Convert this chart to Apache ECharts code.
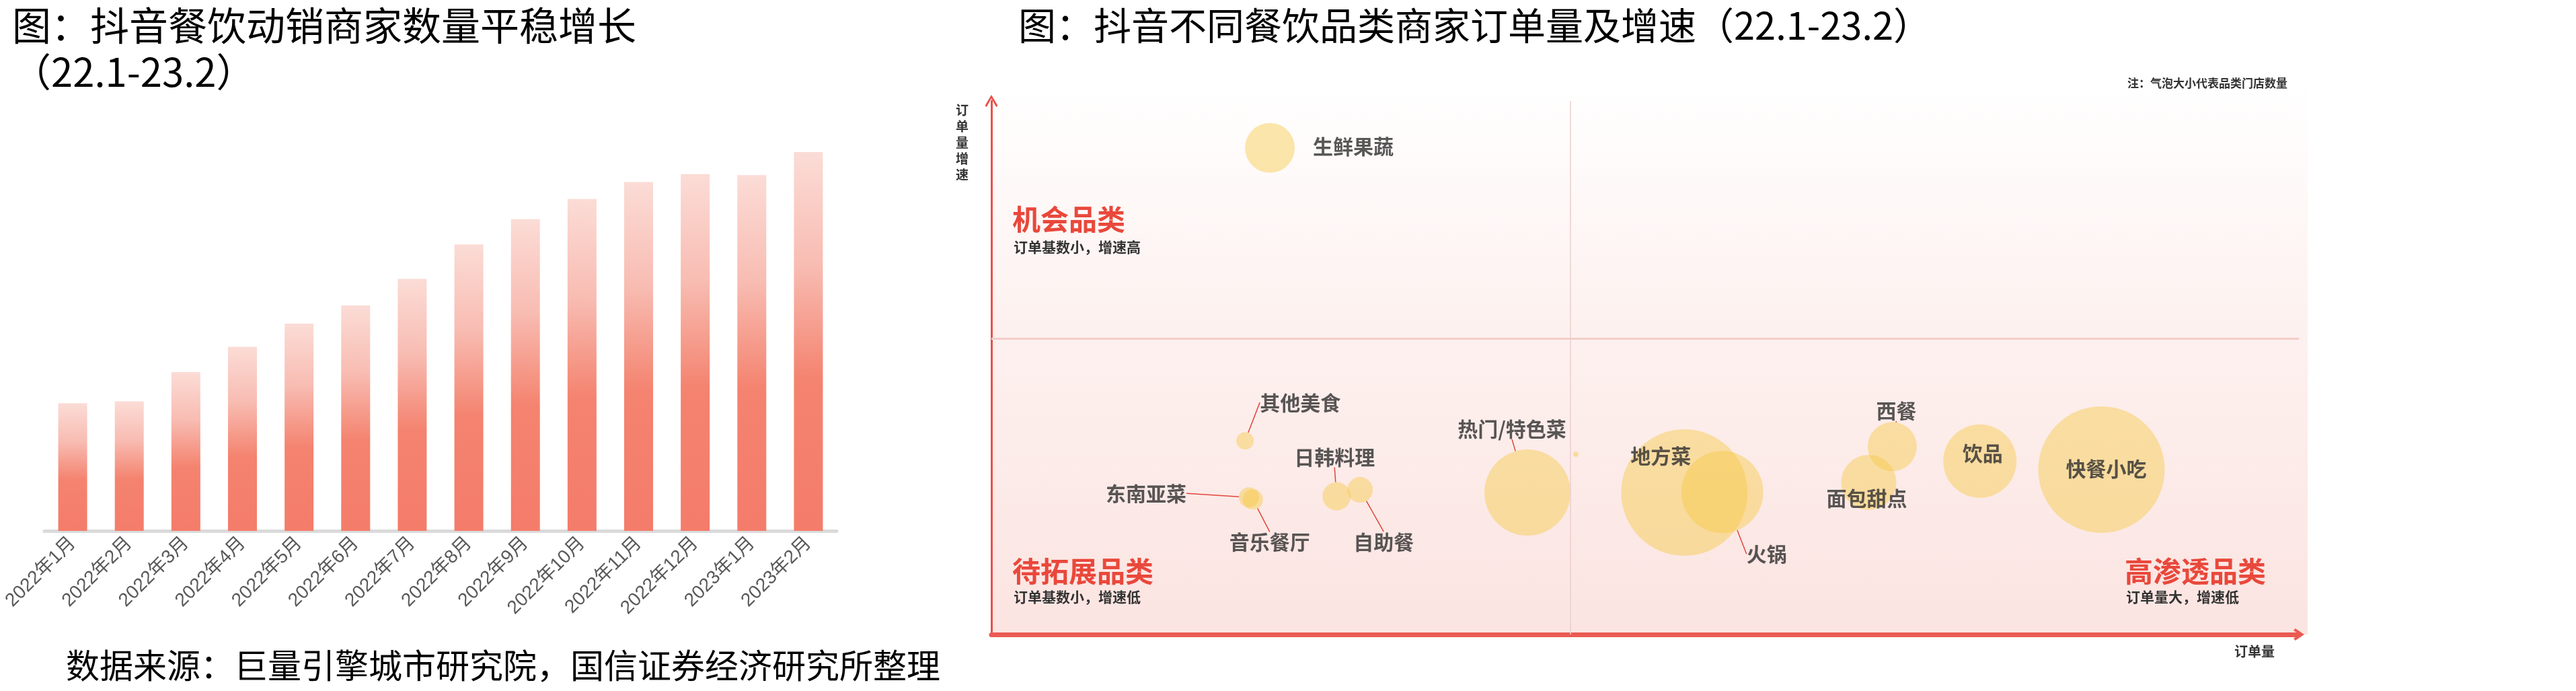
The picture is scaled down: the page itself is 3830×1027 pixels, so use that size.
<!DOCTYPE html>
<html><head><meta charset="utf-8">
<script src="https://cdn.jsdelivr.net/npm/echarts@6/dist/echarts.min.js"></script>
<style>html,body{margin:0;padding:0;background:#fff}#c{width:3830px;height:1027px}</style>
</head><body><div id="c"></div>
<script>
// ---- Left chart data: active restaurant merchants (index, 2023-02 = 100) ----
const months = ['2022年1月','2022年2月','2022年3月','2022年4月','2022年5月','2022年6月','2022年7月','2022年8月','2022年9月','2022年10月','2022年11月','2022年12月','2023年1月','2023年2月'];
const merchantIndex = [33.7, 34.2, 41.9, 48.6, 54.7, 59.5, 66.5, 75.6, 82.3, 87.6, 92.1, 94.2, 93.9, 100];

// ---- Right chart data: order volume vs order growth by category ----
const categories   = ['生鲜果蔬','其他美食','日韩料理','自助餐','东南亚菜','音乐餐厅','热门/特色菜','','地方菜','火锅','西餐','面包甜点','饮品','快餐小吃'];
const orderVolume  = [21.3, 19.4, 26.4, 28.2, 19.7, 20.0, 41.0, 44.7, 53.0, 55.9, 68.9, 67.1, 75.6, 84.9];
const orderGrowth  = [91.2, 36.3, 25.9, 27.1, 25.7, 25.3, 26.6, 33.8, 26.6, 26.7, 35.2, 28.5, 32.5, 30.9];
const bubbleValue  = [74, 26, 42, 38, 30, 30, 128, 8, 188, 122, 73, 82, 109, 188];
const splitVolume  = [44.3];
const splitGrowth  = [55.5];

const CJK = "'Noto Sans CJK SC','Noto Sans CJK JP',sans-serif";
const chart = echarts.init(document.getElementById('c'));

// label placement (pixel offsets from bubble centre) and leader-line flags
const labelStyle = {
  '生鲜果蔬': [124, -2, false],
  '其他美食': [82, -57, true],
  '日韩料理': [-3, -58, true],
  '自助餐': [35, 77, true],
  '东南亚菜': [-153, -6, true],
  '音乐餐厅': [25, 63, true],
  '热门/特色菜': [-23, -94, true],
  '': [0, 0, false],
  '地方菜': [-35, -54, false],
  '火锅': [66, 92, true],
  '西餐': [6, -53, true],
  '面包甜点': [-3, 24, false],
  '饮品': [4, -12, false],
  '快餐小吃': [7, -1, false]
};

const chevY = 'path://M0,17 L10,0 L20,17 L17.6,19 L10,5.5 L2.4,19 Z';
const chevX = 'path://M0,15 L10,0 L20,15 L16.5,18 L10,7 L3.5,18 Z';

const scatterData = categories.map((n, i) => ({
  name: n,
  value: [orderVolume[i], orderGrowth[i], bubbleValue[i]],
  labelLine: { show: labelStyle[n][2] }
}));

function t(text, left, top, size, color, weight, extra) {
  return {
    text: text, left: left, top: top, padding: 0,
    textStyle: Object.assign({ fontSize: size, color: color, fontWeight: weight || 'normal', fontFamily: CJK }, extra || {})
  };
}

const option = {
  animation: false,
  backgroundColor: '#ffffff',
  title: [
    t('图：抖音餐饮动销商家数量平稳增长', 18, 9, 58, '#000'),
    t('（22.1-23.2）', 18, 78, 58, '#000'),
    t('图：抖音不同餐饮品类商家订单量及增速（22.1-23.2）', 1514, 10, 56, '#000'),
    t('数据来源：巨量引擎城市研究院，国信证券经济研究所整理', 98, 964, 50, '#000'),
    t('注：气泡大小代表品类门店数量', 3163, 115, 17, '#333', 'bold'),
    t('订\n单\n量\n增\n速', 1421, 152, 19, '#333', 'bold', { lineHeight: 24 }),
    t('订单量', 3322, 958, 20, '#333', 'bold'),
    t('机会品类', 1505, 305, 42, '#e9483b', 'bold'),
    t('订单基数小，增速高', 1507, 357, 21, '#333', 'bold'),
    t('待拓展品类', 1505, 828, 42, '#e9483b', 'bold'),
    t('订单基数小，增速低', 1507, 877, 21, '#333', 'bold'),
    t('高渗透品类', 3159, 828, 42, '#e9483b', 'bold'),
    t('订单量大，增速低', 3161, 877, 21, '#333', 'bold')
  ],
  graphic: [{
    type: 'rect', z: -100,
    shape: { x: 1474, y: 121, width: 1957, height: 822 },
    style: {
      fill: new echarts.graphic.LinearGradient(0, 0, 0, 1, [
        { offset: 0, color: '#ffffff' },
        { offset: 0.45, color: '#fdf1ef' },
        { offset: 1, color: '#fbe4e1' }
      ])
    }
  }],
  grid: [
    { left: 66, top: 226, width: 1178, height: 563 },
    { left: 1474, top: 150, width: 1944, height: 793 }
  ],
  xAxis: [
    {
      type: 'category', gridIndex: 0, data: months,
      axisLine: { lineStyle: { color: '#dadada', width: 5 } },
      axisTick: { show: false },
      axisLabel: { interval: 0, rotate: 45, margin: 14, fontSize: 28, color: '#595959', fontFamily: "'Liberation Sans','Noto Sans CJK SC',sans-serif" }
    },
    {
      type: 'value', gridIndex: 1, min: 0, max: 100,
      axisLine: { show: true, symbol: ['none', chevX], symbolSize: [24, 16], lineStyle: { color: '#ea5a52', width: 7 } },
      axisTick: { show: false }, axisLabel: { show: false }, splitLine: { show: false }
    }
  ],
  yAxis: [
    { type: 'value', gridIndex: 0, min: 0, max: 100, show: false },
    {
      type: 'value', gridIndex: 1, min: 0, max: 100,
      axisLine: { show: true, symbol: ['none', chevY], symbolSize: [22, 18], lineStyle: { color: '#e8504a', width: 3 } },
      axisTick: { show: false }, axisLabel: { show: false }, splitLine: { show: false }
    }
  ],
  series: [
    {
      type: 'bar', xAxisIndex: 0, yAxisIndex: 0, data: merchantIndex, barWidth: 43,
      itemStyle: {
        color: new echarts.graphic.LinearGradient(0, 0, 0, 1, [
          { offset: 0, color: '#fbdcd6' },
          { offset: 0.3, color: '#f8bcb2' },
          { offset: 0.6, color: '#f4836f' },
          { offset: 1, color: '#f47c6a' }
        ])
      }
    },
    {
      type: 'scatter', xAxisIndex: 1, yAxisIndex: 1, data: scatterData,
      symbolSize: v => v[2],
      itemStyle: { color: 'rgba(245,200,66,0.55)' },
      label: {
        show: true, position: 'inside', formatter: '{b}',
        fontSize: 30, color: '#2e2e2e', fontWeight: 'bold', fontFamily: CJK
      },
      labelLayout: p => {
        const s = labelStyle[categories[p.dataIndex]];
        return { dx: s[0], dy: s[1] };
      },
      labelLine: { lineStyle: { color: '#e0463c', width: 1.5 } },
      emphasis: { disabled: true },
      markLine: {
        silent: true, symbol: 'none', label: { show: false },
        data: [
          { xAxis: splitVolume[0], lineStyle: { color: '#ebcfcc', width: 1.5, type: 'solid' } },
          { yAxis: splitGrowth[0], lineStyle: { color: '#f1cdc9', width: 3, type: 'solid' } }
        ]
      }
    }
  ]
};
chart.setOption(option);
</script></body></html>
